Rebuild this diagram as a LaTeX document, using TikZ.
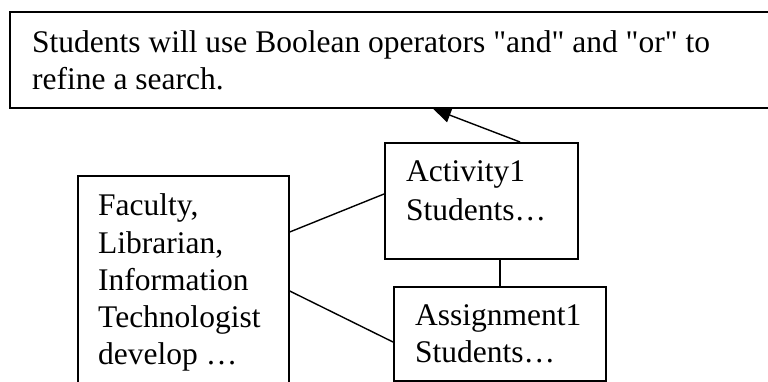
\documentclass[tikz,border=0pt]{standalone}
\usepackage{fontspec}
\setmainfont{Liberation Serif}
\newfontfamily\plainserif{Liberation Serif}
\usetikzlibrary{arrows.meta,calc}
\newcommand{\sq}{{\plainserif"}}
\begin{document}
\begin{tikzpicture}[x=1pt,y=1pt,
  box/.style={draw=black,line width=1.7pt,inner sep=0pt,anchor=north west},
  txt/.style={inner sep=0pt,anchor=base west,font=\fontsize{31.5}{37}\selectfont},
  conn/.style={draw=black,line width=1.4pt}]
\useasboundingbox (0,0) rectangle (768,-382);
\clip (0,0) rectangle (768,-382);
% boxes
\node[box,minimum width=790pt,minimum height=96pt] (goal) at (9,-11) {};
\node[box,minimum width=193pt,minimum height=116pt] (act) at (384,-142) {};
\node[box,minimum width=212pt,minimum height=94pt] (asg) at (393,-286) {};
\node[box,minimum width=211pt,minimum height=240pt] (fac) at (77,-175) {};
% texts
\node[txt] (g1) at (32,-53) {Students will use Boolean operators \sq and\sq{} and \sq or\sq{} to};
\node[txt] (g2) at (32,-90) {refine a search.};
\node[txt] (a1) at (406,-182) {Activity1};
\node[txt] (a2) at (406,-220) {Students…};
\node[txt] (s1) at (415,-325) {Assignment1};
\node[txt] (s2) at (415,-362) {Students…};
\node[txt] (f1) at (98,-215) {Faculty,};
\node[txt] (f2) at (98,-253) {Librarian,};
\node[txt] (f3) at (98,-290) {Information};
\node[txt] (f4) at (98,-327) {Technologist};
\node[txt] (f5) at (98,-364) {develop …};
% connectors
\draw[conn] ([yshift=-57pt]fac.north east) -- ([yshift=-52pt]act.north west);
\draw[conn] ([yshift=-116pt]fac.north east) -- ([yshift=-56pt]asg.north west);
\draw[conn] ([xshift=116pt]act.south west) -- ([xshift=107pt]asg.north west);
\draw[conn,-{Triangle[length=18pt,width=15pt]}] ([xshift=136pt]act.north west) -- ([xshift=424pt]goal.south west);
\end{tikzpicture}
\end{document}
